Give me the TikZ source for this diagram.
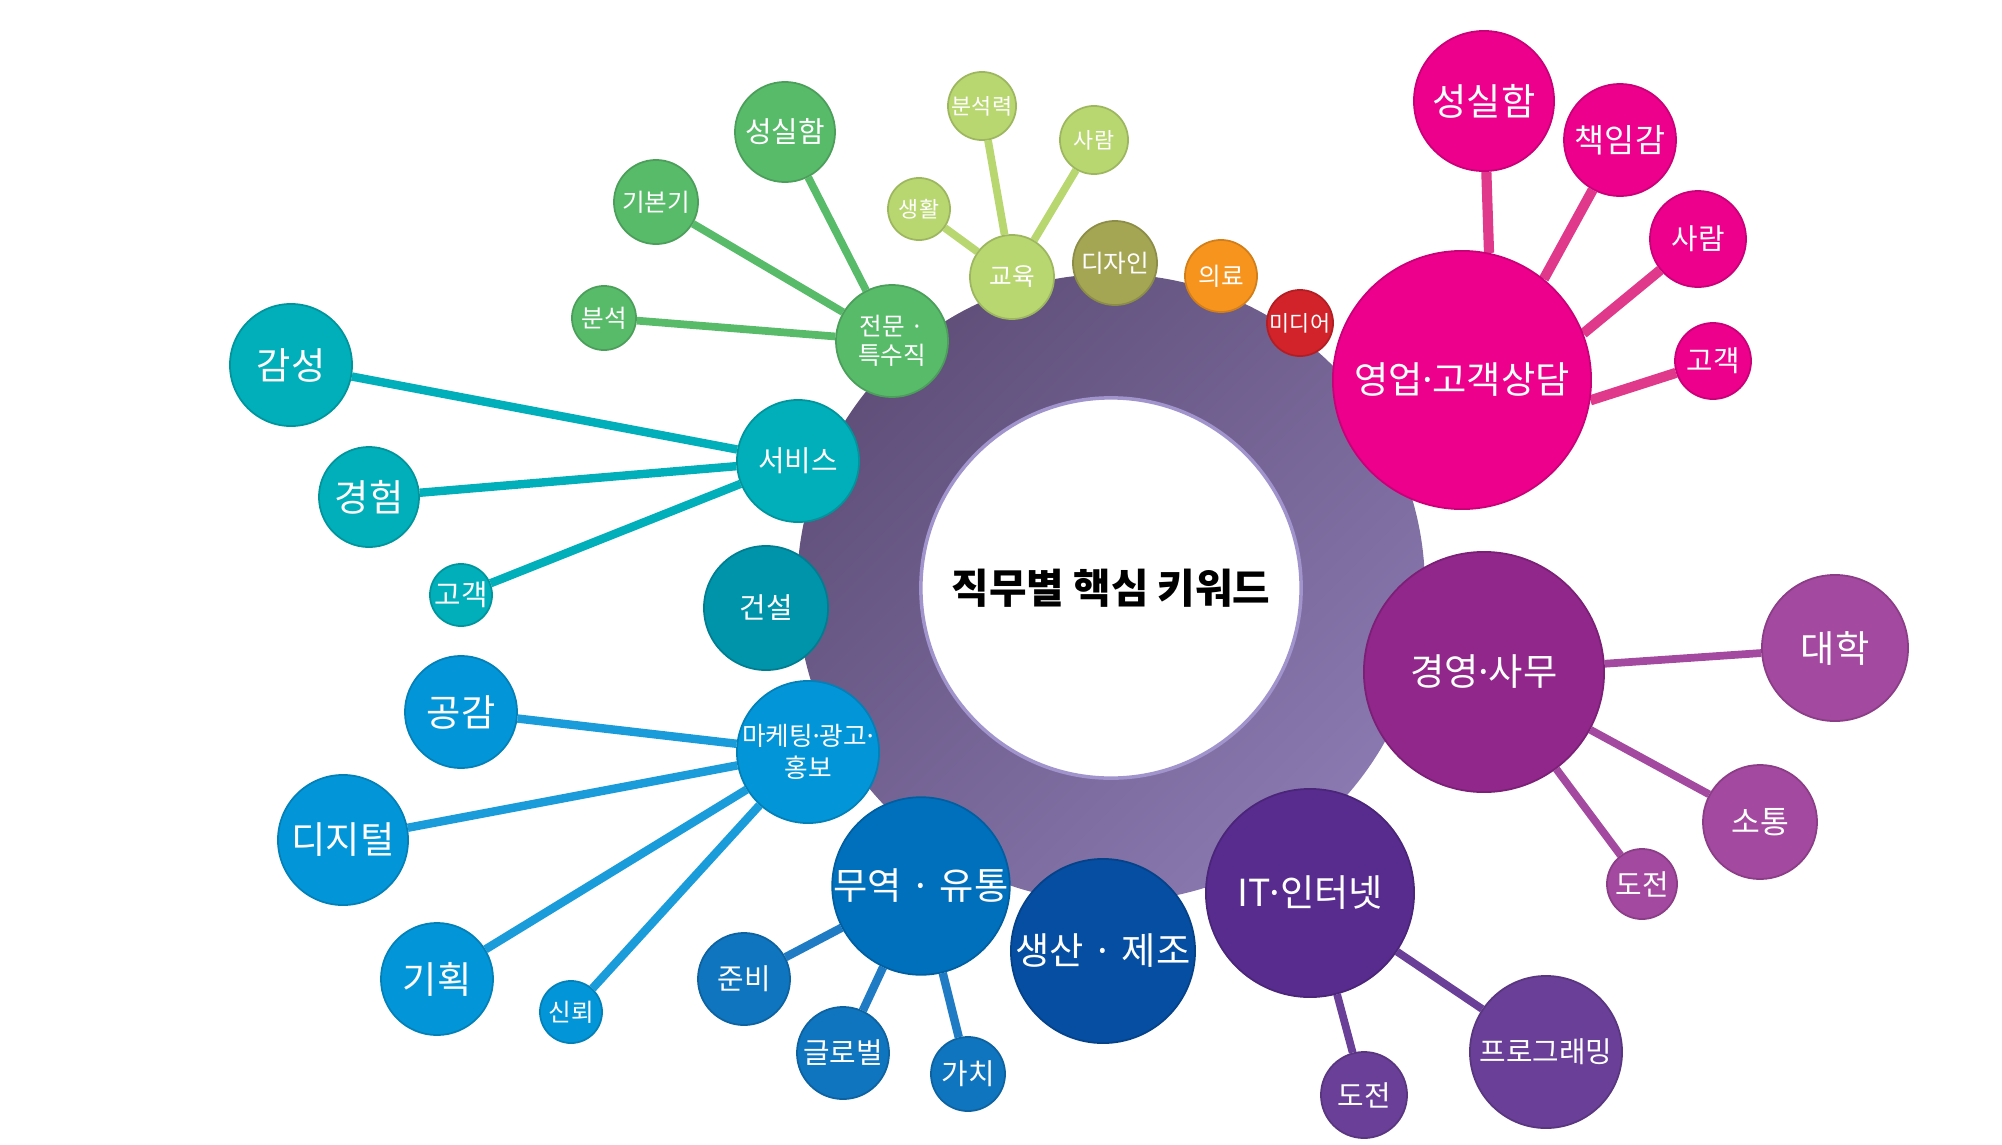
\documentclass[tikz,border=0pt]{standalone}
\usepackage{fontspec}
\setmainfont{Noto Sans CJK KR}
\usetikzlibrary{backgrounds}
\definecolor{ringdark}{HTML}{5F4F79}
\definecolor{ringlight}{HTML}{8A79B0}
\definecolor{ringedge}{HTML}{A194CC}
\definecolor{sales}{HTML}{EC008C}
\definecolor{salesln}{HTML}{E0388A}
\definecolor{media}{HTML}{D2232A}
\definecolor{medical}{HTML}{F7941D}
\definecolor{design}{HTML}{A5A654}
\definecolor{edu}{HTML}{B9D770}
\definecolor{spec}{HTML}{58BB6A}
\definecolor{service}{HTML}{00AFB9}
\definecolor{build}{HTML}{0094AB}
\definecolor{mkt}{HTML}{0296D9}
\definecolor{mktln}{HTML}{1A9CDB}
\definecolor{trade}{HTML}{0070BC}
\definecolor{tradesub}{HTML}{0F75BE}
\definecolor{tradeln}{HTML}{1F7CC4}
\definecolor{prod}{HTML}{054EA2}
\definecolor{it}{HTML}{582C8E}
\definecolor{itsub}{HTML}{6A3F98}
\definecolor{mgmt}{HTML}{91268B}
\definecolor{mgmtsub}{HTML}{A3499F}
\newcommand{\mdt}{\kern-.15em·\kern-.15em}

\begin{document}
\begin{tikzpicture}[x=0.01cm,y=-0.01cm,
    kw/.style={circle,inner sep=0pt,text=white,fill=#1,draw=#1!85!black,line width=0.5pt},
    rad/.style={minimum size=0.02cm*#1},
    fa/.style={font=\fontsize{10.6}{12}\selectfont},
    fb/.style={font=\fontsize{8.2}{10}\selectfont},
    fc/.style={font=\fontsize{7}{8.4}\selectfont},
    fd/.style={font=\fontsize{6.2}{7.5}\selectfont},
    ln/.style={draw=#1,line width=2.4pt}]
  \useasboundingbox (0,0) rectangle (2002,1145);
  \node[circle,fill=white,draw=ringedge,line width=1pt,rad=190,font=\fontsize{11.6}{13}\selectfont\bfseries] (hub) at (1111,588) {직무별 핵심 키워드};

  \node[kw=sales,rad=129,fa] (sales) at (1462,380) {영업\mdt 고객상담};
  \node[kw=sales,rad=70,fa] (sincere1) at (1484,101) {성실함};
  \node[kw=sales,rad=56,font=\fontsize{9.3}{11}\selectfont] (resp) at (1620,140) {책임감};
  \node[kw=sales,rad=48,fb] (people1) at (1698,239) {사람};
  \node[kw=sales,rad=38,fb] (cust1) at (1713,361) {고객};

  \node[kw=media,rad=33,fd] (media) at (1300,323) {미디어};
  \node[kw=medical,rad=36,fc] (medical) at (1221,276) {의료};
  \node[kw=design,rad=42,fc] (design) at (1115,263) {디자인};
  \node[kw=edu,rad=42,fc] (edu) at (1012,277) {교육};
  \node[kw=edu,rad=31,fd] (life) at (919,209) {생활};
  \node[kw=edu,rad=34,fd] (analysis2) at (982,106) {분석력};
  \node[kw=edu,rad=34,fd] (people2) at (1094,140) {사람};

  \node[kw=spec,rad=56,fc,align=center] (spec) at (892,341) {전문 ·\\특수직};
  \node[kw=spec,rad=50,fb] (sincere2) at (785,132) {성실함};
  \node[kw=spec,rad=42,fc] (basics) at (656,202) {기본기};
  \node[kw=spec,rad=32,fc] (analysis1) at (604,318) {분석};

  \node[kw=service,rad=61,fb] (service) at (798,461) {서비스};
  \node[kw=service,rad=61,fa] (emotion) at (291,365) {감성};
  \node[kw=service,rad=50,fa] (exper) at (369,497) {경험};
  \node[kw=service,rad=31,fb] (cust2) at (461,595) {고객};

  \node[kw=build,rad=62,fb] (build) at (766,608) {건설};

  \node[kw=mkt,rad=71,align=center,inner sep=-6pt,font=\fontsize{7.3}{9}\selectfont] (mkt) at (808,752) {마케팅\mdt 광고\mdt\\홍보};
  \node[kw=mkt,rad=56,fa] (empathy) at (461,712) {공감};
  \node[kw=mkt,rad=65,fa] (digital) at (343,840) {디지털};
  \node[kw=mkt,rad=56,fa] (plan) at (437,979) {기획};
  \node[kw=mkt,rad=31,fc] (trust) at (571,1012) {신뢰};

  \node[kw=trade,rad=84,fa] (trade) at (921,886) {무역 · 유통};
  \node[kw=tradesub,rad=46,fb] (prep) at (744,979) {준비};
  \node[kw=tradesub,rad=46,fb] (global) at (843,1053) {글로벌};
  \node[kw=tradesub,rad=37,fb] (value) at (968,1074) {가치};

  \node[kw=prod,rad=92,fa] (prod) at (1103,951) {생산 · 제조};

  \node[kw=it,rad=104,fa] (it) at (1310,893) {IT\mdt 인터넷};
  \node[kw=itsub,rad=43,fb] (chal2) at (1364,1095) {도전};
  \node[kw=itsub,rad=76,fb] (prog) at (1546,1052) {프로그래밍};

  \node[kw=mgmt,rad=120,fa] (mgmt) at (1484,672) {경영\mdt 사무};
  \node[kw=mgmtsub,rad=73,fa] (univ) at (1835,648) {대학};
  \node[kw=mgmtsub,rad=57,font=\fontsize{8.9}{10}\selectfont] (comm) at (1760,822) {소통};
  \node[kw=mgmtsub,rad=35,fb] (chal1) at (1642,884) {도전};

  \begin{scope}[on background layer]
    \shade[top color=ringdark,bottom color=ringlight,shading angle=45] (hub.center) circle[radius=314];
    \draw[ln=salesln,line width=2.9pt] (sales.78) -- (sincere1) (sales.51) -- (resp) (sales.21) -- (people1) (sales.-9) -- (cust1);
    \draw[ln=edu,line width=2.2pt] (edu) -- (life) (edu) -- (analysis2) (edu) -- (people2);
    \draw[ln=spec,line width=2.2pt] (spec) -- (sincere2) (spec) -- (basics) (spec) -- (analysis1);
    \draw[ln=service] (service) -- (emotion) (service) -- (exper) (service) -- (cust2);
    \draw[ln=mktln] (mkt) -- (empathy) (mkt) -- (digital) (mkt) -- (plan) (mkt) -- (trust);
    \draw[ln=tradeln] (trade) -- (prep) (trade) -- (global) (trade) -- (value);
    \draw[ln=itsub,line width=2.2pt] (it) -- (chal2) (it) -- (prog);
    \draw[ln=mgmtsub,line width=2.2pt] (mgmt) -- (univ) (mgmt) -- (comm) (mgmt) -- (chal1);
  \end{scope}
\end{tikzpicture}
\end{document}
